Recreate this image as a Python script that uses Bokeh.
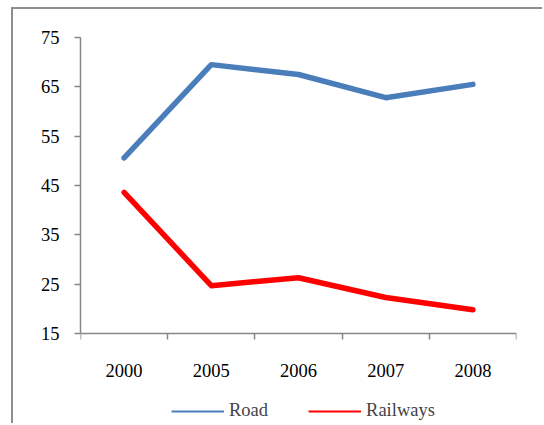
from bokeh.plotting import figure
from bokeh.models import FixedTicker, Legend, LegendItem, Range1d
from bokeh.embed import file_html
from bokeh.resources import INLINE

years = ["2000", "2005", "2006", "2007", "2008"]
road = [50.6, 69.5, 67.5, 62.8, 65.5]
railways = [43.6, 24.7, 26.3, 22.3, 19.8]
y_ticks = [15, 25, 35, 45, 55, 65, 75]

xs = [i + 0.5 for i in range(len(years))]

p = figure(width=531, height=416, output_backend="svg", toolbar_location=None,
           x_range=Range1d(0, len(years)), y_range=Range1d(-3.65, 75),
           min_border_left=67, min_border_top=28, min_border_right=28, min_border_bottom=0)
p.styles = {"margin-left": "11px", "margin-top": "7px",
            "border-left": "2px solid #8e8e8e", "border-top": "2px solid #8e8e8e"}
p.outline_line_color = None
p.grid.visible = False

# thin copies (hidden under the thick lines) give the legend its thin swatches
l1 = p.line(xs, road, line_color="#4A7EBB", line_width=2)
l2 = p.line(xs, railways, line_color="#FF0000", line_width=2)
p.line(xs, road, line_color="#4A7EBB", line_width=5.5, line_cap="round", line_join="round")
p.line(xs, railways, line_color="#FF0000", line_width=5.5, line_cap="round", line_join="round")

font = "Liberation Serif"
fs = "18.5px"
p.yaxis.ticker = FixedTicker(ticks=y_ticks)
p.yaxis.bounds = (y_ticks[0], y_ticks[-1])
p.yaxis.axis_line_color = "#868686"
p.yaxis.axis_line_width = 1.5
p.yaxis.major_tick_line_color = "#868686"
p.yaxis.major_tick_line_width = 1.5
p.yaxis.major_tick_out = 6
p.yaxis.major_tick_in = 0
p.yaxis.minor_tick_line_color = None
p.yaxis.major_label_text_font = font
p.yaxis.major_label_text_font_size = fs
p.yaxis.major_label_text_color = "black"
p.yaxis.major_label_standoff = 15

p.xaxis.fixed_location = y_ticks[0]
p.xaxis.ticker = FixedTicker(ticks=xs, minor_ticks=list(range(len(years) + 1)))
p.xaxis.major_label_overrides = {x: y for x, y in zip(xs, years)}
p.xaxis.axis_line_color = "#868686"
p.xaxis.axis_line_width = 1.5
p.xaxis.major_tick_line_color = None
p.xaxis.minor_tick_line_color = "#868686"
p.xaxis.minor_tick_line_width = 1.5
p.xaxis.minor_tick_out = 6
p.xaxis.minor_tick_in = 0
p.xaxis.major_label_text_font = font
p.xaxis.major_label_text_font_size = fs
p.xaxis.major_label_text_color = "black"
p.xaxis.major_label_standoff = 25

legend = Legend(items=[LegendItem(label="Road", renderers=[l1]),
                       LegendItem(label="Railways", renderers=[l2])],
                orientation="horizontal", location=(91, 4),
                label_text_font=font, label_text_font_size=fs,
                glyph_width=53, glyph_height=14, label_standoff=5, spacing=40,
                border_line_color=None, background_fill_alpha=0, padding=4, margin=0)
p.add_layout(legend, "center")

open("out.html", "w").write(file_html(p, INLINE))
